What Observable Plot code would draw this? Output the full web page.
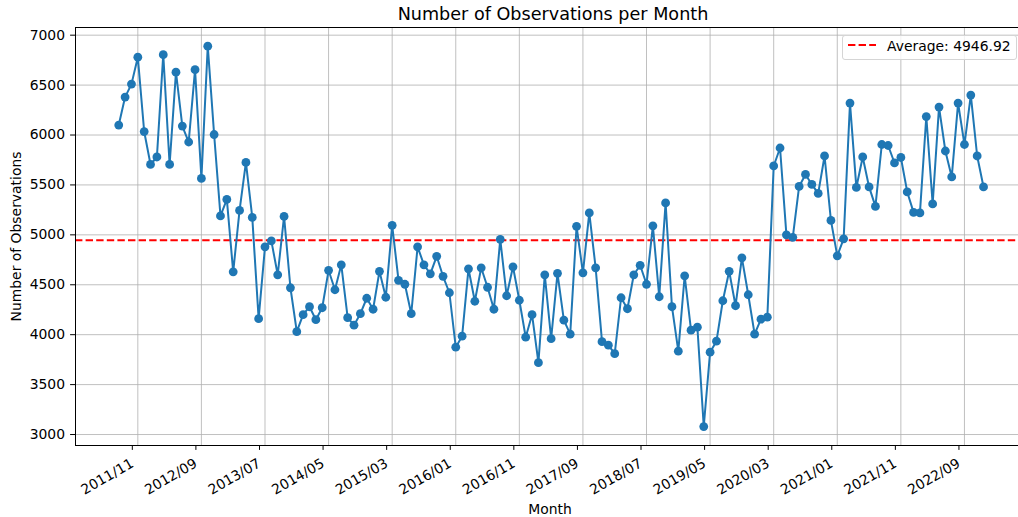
<!DOCTYPE html>
<html>
<head>
<meta charset="utf-8">
<script src="https://cdn.jsdelivr.net/npm/d3@7"></script>
<script src="https://cdn.jsdelivr.net/npm/@observablehq/plot@0.6"></script>
<style>
html, body { margin: 0; padding: 0; background: #fff; overflow: hidden; }
#wrap { position: relative; width: 1018px; height: 517px; font-family: "DejaVu Sans", sans-serif; color: #000; }
#title { position: absolute; left: 303px; width: 500px; top: 5.5px; text-align: center; font-size: 17.6px; line-height: 17.6px; white-space: nowrap; }
#xlabel { position: absolute; left: 450px; width: 200px; top: 500.5px; text-align: center; font-size: 13.9px; line-height: 16px; white-space: nowrap; }
#legend { position: absolute; left: 842px; top: 35px; width: 175px; height: 24.5px; box-sizing: border-box; border: 1px solid #d5d5d5; border-radius: 3px; background: rgba(255,255,255,0.8); font-size: 13.9px; }
#legend svg { position: absolute; left: 4px; top: 7px; }
#legend span { position: absolute; left: 44px; top: 2px; line-height: 16px; white-space: nowrap; }
</style>
</head>
<body>
<div id="wrap">
  <div id="chart"></div>
  <div id="title">Number of Observations per Month</div>
  <div id="xlabel">Month</div>
  <div id="legend"><svg width="30" height="4"><line x1="1" y1="2" x2="29" y2="2" stroke="red" stroke-width="2" stroke-dasharray="7.4,3.2"/></svg><span>Average: 4946.92</span></div>
</div>
<script>
const months = [
  "2011/08","2011/09","2011/10","2011/11","2011/12",
  "2012/01","2012/02","2012/03","2012/04","2012/05","2012/06","2012/07","2012/08","2012/09","2012/10","2012/11","2012/12",
  "2013/01","2013/02","2013/03","2013/04","2013/05","2013/06","2013/07","2013/08","2013/09","2013/10","2013/11","2013/12",
  "2014/01","2014/02","2014/03","2014/04","2014/05","2014/06","2014/07","2014/08","2014/09","2014/10","2014/11","2014/12",
  "2015/01","2015/02","2015/03","2015/04","2015/05","2015/06","2015/07","2015/08","2015/09","2015/10","2015/11","2015/12",
  "2016/01","2016/02","2016/03","2016/04","2016/05","2016/06","2016/07","2016/08","2016/09","2016/10","2016/11","2016/12",
  "2017/01","2017/02","2017/03","2017/04","2017/05","2017/06","2017/07","2017/08","2017/09","2017/10","2017/11","2017/12",
  "2018/01","2018/02","2018/03","2018/04","2018/05","2018/06","2018/07","2018/08","2018/09","2018/10","2018/11","2018/12",
  "2019/01","2019/02","2019/03","2019/04","2019/05","2019/06","2019/07","2019/08","2019/09","2019/10","2019/11","2019/12",
  "2020/01","2020/02","2020/03","2020/04","2020/05","2020/06","2020/07","2020/08","2020/09","2020/10","2020/11","2020/12",
  "2021/01","2021/02","2021/03","2021/04","2021/05","2021/06","2021/07","2021/08","2021/09","2021/10","2021/11","2021/12",
  "2022/01","2022/02","2022/03","2022/04","2022/05","2022/06","2022/07","2022/08","2022/09","2022/10","2022/11","2022/12"
];
const counts = [
  6100, 6380, 6510, 6780, 6035, 5705, 5780, 6805, 5705, 6630,
  6090, 5930, 6655, 5565, 6890, 6005, 5190, 5355, 4630, 5245,
  5725, 5175, 4160, 4880, 4940, 4600, 5185, 4470, 4030, 4200,
  4280, 4150, 4270, 4645, 4450, 4700, 4170, 4095, 4210, 4365,
  4255, 4635, 4375, 5095, 4545, 4505, 4210, 4880, 4700, 4610,
  4785, 4585, 4420, 3875, 3985, 4660, 4335, 4670, 4475, 4255,
  4955, 4390, 4680, 4345, 3975, 4200, 3720, 4600, 3960, 4615,
  4145, 4005, 5085, 4620, 5220, 4670, 3930, 3895, 3810, 4370,
  4260, 4600, 4695, 4505, 5090, 4380, 5320, 4280, 3835, 4590,
  4045, 4075, 3080, 3825, 3935, 4340, 4635, 4290, 4770, 4400,
  4005, 4155, 4175, 5690, 5870, 5000, 4975, 5485, 5605, 5505,
  5415, 5790, 5145, 4790, 4960, 6320, 5475, 5780, 5480, 5285,
  5905, 5895, 5720, 5775, 5430, 5225, 5220, 6185, 5310, 6280,
  5840, 5580, 6320, 5905, 6400, 5790, 5480
];
const tickLabels = ["2011/11","2012/09","2013/07","2014/05","2015/03","2016/01","2016/11","2017/09","2018/07","2019/05","2020/03","2021/01","2021/11","2022/09"];
const yTicks = [3000, 3500, 4000, 4500, 5000, 5500, 6000, 6500, 7000];
const average = [4946.92];

const data = months.map((m, i) => ({i, month: m, count: counts[i]}));
const tickIdx = tickLabels.map(t => months.indexOf(t));

const chart = Plot.plot({
  width: 1018,
  height: 517,
  marginTop: 27,
  marginBottom: 72,
  marginLeft: 75,
  marginRight: 0,
  style: {fontFamily: "DejaVu Sans, sans-serif", fontSize: "13.9px", color: "#000", background: "#fff", overflow: "hidden"},
  x: {type: "linear", domain: [-6.8, 141.5]},
  y: {type: "linear", domain: [2890, 7077]},
  marks: [
    Plot.gridX(tickIdx, {stroke: "#b0b0b0", strokeOpacity: 1, strokeWidth: 0.8}),
    Plot.gridY(yTicks, {stroke: "#b0b0b0", strokeOpacity: 1, strokeWidth: 0.8}),
    Plot.ruleY(average, {stroke: "red", strokeWidth: 2, strokeDasharray: "7.4,3.2"}),
    Plot.line(data, {x: "i", y: "count", stroke: "#1f77b4", strokeWidth: 2}),
    Plot.dot(data, {x: "i", y: "count", r: 4.4, fill: "#1f77b4", stroke: "none"}),
    Plot.frame({anchor: "top", stroke: "#000", strokeWidth: 1}),
    Plot.frame({anchor: "left", stroke: "#000", strokeWidth: 1}),
    Plot.frame({anchor: "bottom", stroke: "#000", strokeWidth: 1}),
    Plot.axisX(tickIdx, {
      tickFormat: i => months[i], tickRotate: -30, tickSize: 4.9, tickPadding: 11.8, dx: -5.5,
      label: null
    }),
    Plot.axisY(yTicks, {
      tickFormat: d => String(d), tickSize: 4.9, tickPadding: 5.6,
      label: "Number of Observations", labelAnchor: "center", labelArrow: "none", labelOffset: 64
    })
  ]
});
document.getElementById("chart").appendChild(chart);
</script>
</body>
</html>
